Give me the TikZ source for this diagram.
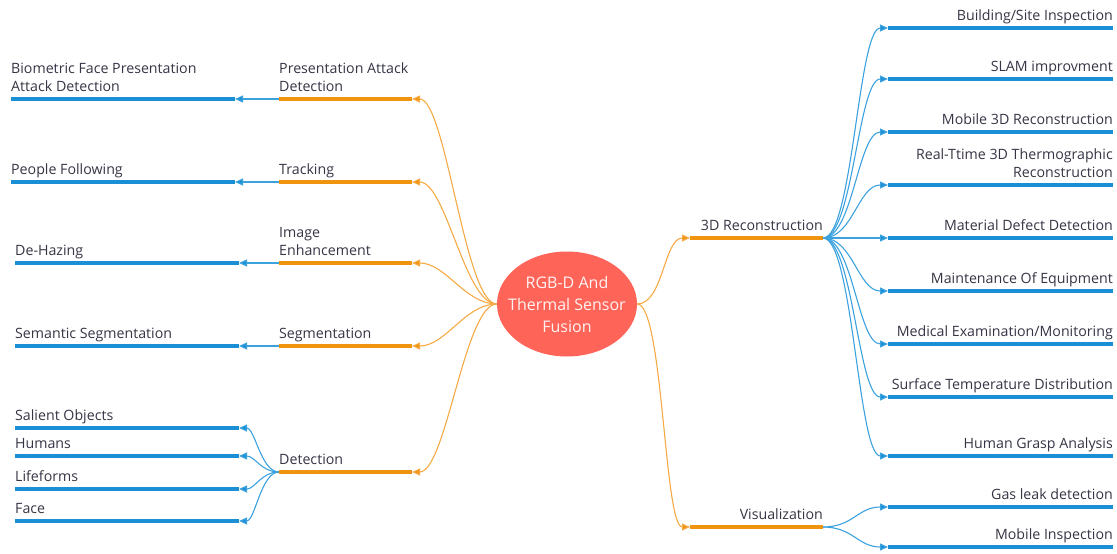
\documentclass[tikz,border=0pt]{standalone}
\usepackage{fontspec}
\setmainfont{Open Sans}
\usetikzlibrary{arrows.meta,shapes.geometric}

\definecolor{barblue}{HTML}{1B8FD6}
\definecolor{linkblue}{HTML}{3CA2DE}
\definecolor{barorange}{HTML}{F0940F}
\definecolor{linkorange}{HTML}{F5AA45}
\definecolor{hub}{HTML}{FF6458}
\definecolor{ink}{HTML}{353545}

\begin{document}
\begin{tikzpicture}[x=1pt,y=-1pt,
  font=\fontsize{14.2}{18}\selectfont,
  bar/.style={inner sep=0pt,outer sep=0pt,minimum height=4pt,anchor=west,fill=#1},
  bbar/.style={bar=barblue,minimum width=#1},
  bbar/.default=224pt,
  obar/.style={bar=barorange,minimum width=133pt},
  lleft/.style={inner sep=0pt,text=ink,text depth=0pt,align=left,anchor=south west,yshift=5pt},
  lright/.style={inner sep=0pt,text=ink,text depth=0pt,align=right,anchor=south east,yshift=5pt},
  olink/.style={draw=linkorange,line width=1.1pt,-{Triangle[length=8pt,width=7pt,fill=barorange]}},
  blink/.style={draw=linkblue,line width=1.1pt,-{Triangle[length=8pt,width=7pt,fill=barblue]}},
]
\useasboundingbox (0,0) rectangle (1117,554);

% central topic
\node[ellipse,fill=hub,minimum width=140pt,minimum height=105pt,inner xsep=-10pt,inner ysep=0pt,
      text=white!92!hub,align=center,font=\fontsize{16}{22}\selectfont]
  (hub) at (567,304) {RGB-D And\\Thermal Sensor\\Fusion};

% left main branches
\node[obar,label={[lleft]north west:{Presentation Attack\\Detection}}] (pad) at (279,99) {};
\node[obar,label={[lleft]north west:Tracking}] (trk) at (279,182) {};
\node[obar,label={[lleft]north west:{Image\\Enhancement}}] (enh) at (279,263) {};
\node[obar,label={[lleft]north west:Segmentation}] (seg) at (279,346) {};
\node[obar,label={[lleft]north west:Detection}] (det) at (279,472) {};

% left sub-branches
\node[bbar,label={[lleft]north west:{Biometric Face Presentation\\Attack Detection}}] (bio) at (11,99) {};
\node[bbar,label={[lleft]north west:People Following}] (ppl) at (11,182) {};
\node[bbar,label={[lleft]north west:De-Hazing}] (haz) at (15,263) {};
\node[bbar,label={[lleft]north west:Semantic Segmentation}] (sem) at (15,346) {};
\node[bbar,label={[lleft]north west:Salient Objects}] (sal) at (15,428) {};
\node[bbar,label={[lleft]north west:Humans}] (hum) at (15,456) {};
\node[bbar,label={[lleft]north west:Lifeforms}] (life) at (15,489) {};
\node[bbar,label={[lleft]north west:Face}] (face) at (15,521) {};

% right main branches
\node[obar,label={[lright]north east:3D Reconstruction}] (rec) at (690,238) {};
\node[obar,label={[lright]north east:Visualization}] (vis) at (690,527) {};

% right sub-branches
\node[bbar=225pt,label={[lright]north east:Building/Site Inspection}] (bsi) at (888,28) {};
\node[bbar=225pt,label={[lright]north east:SLAM improvment}] (slam) at (888,79) {};
\node[bbar=225pt,label={[lright]north east:Mobile 3D Reconstruction}] (m3d) at (888,132) {};
\node[bbar=225pt,label={[lright]north east:{Real-Ttime 3D Thermographic\\Reconstruction}}] (rtt) at (888,185) {};
\node[bbar=225pt,label={[lright]north east:Material Defect Detection}] (mdd) at (888,238) {};
\node[bbar=225pt,label={[lright]north east:Maintenance Of Equipment}] (moe) at (888,291) {};
\node[bbar=225pt,label={[lright]north east:Medical Examination/Monitoring}] (med) at (888,344) {};
\node[bbar=225pt,label={[lright]north east:Surface Temperature Distribution}] (std) at (888,397) {};
\node[bbar=225pt,label={[lright]north east:Human Grasp Analysis}] (hga) at (888,456) {};
\node[bbar=225pt,label={[lright]north east:Gas leak detection}] (gas) at (888,507) {};
\node[bbar=225pt,label={[lright]north east:Mobile Inspection}] (mob) at (888,547) {};

% hub to main branches
\foreach \n in {pad,trk,enh,seg,det}
  \draw[olink] (hub.west) .. controls +(-32,0) and +(34,0) .. (\n.east);
\foreach \n in {rec,vis}
  \draw[olink] (hub.east) .. controls +(26,0) and +(-26,0) .. (\n.west);

% left main branches to their sub-branches
\draw[blink] (pad.west) -- (bio.east);
\draw[blink] (trk.west) -- (ppl.east);
\draw[blink] (enh.west) -- (haz.east);
\draw[blink] (seg.west) -- (sem.east);
\foreach \n in {sal,hum,life,face}
  \draw[blink] (det.west) .. controls +(-18,0) and +(16,0) .. (\n.east);

% right main branches to their sub-branches
\foreach \n in {bsi,slam,m3d,rtt,mdd,moe,med,std,hga}
  \draw[blink] (rec.east) .. controls +(30,0) and +(-30,0) .. (\n.west);
\foreach \n in {gas,mob}
  \draw[blink] (vis.east) .. controls +(30,0) and +(-30,0) .. (\n.west);
\end{tikzpicture}
\end{document}
